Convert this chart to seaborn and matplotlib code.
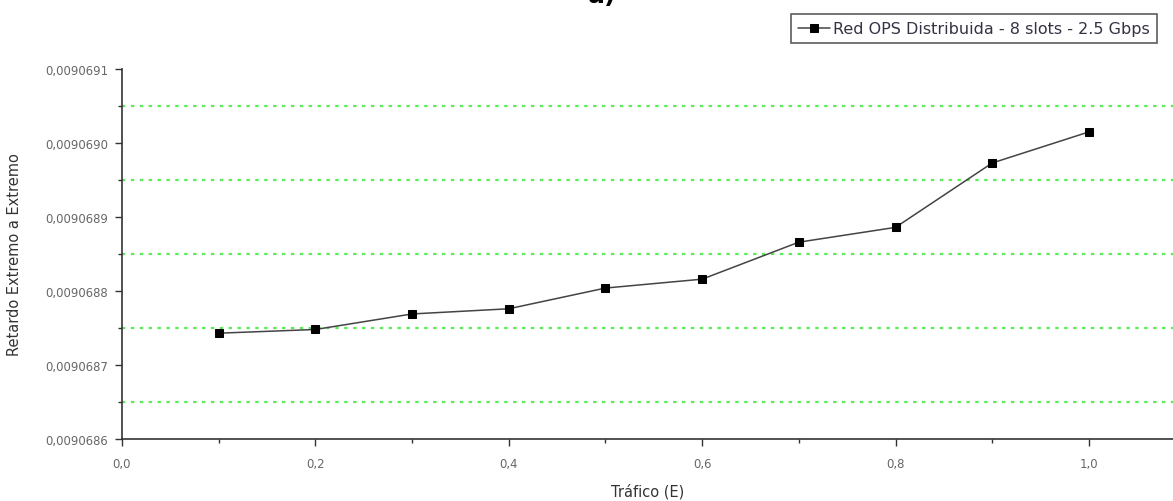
import matplotlib
matplotlib.use("Agg")
import matplotlib.pyplot as plt
import matplotlib.ticker as mticker
import seaborn as sns
import pandas as pd

trafico = [0.1, 0.2, 0.3, 0.4, 0.5, 0.6, 0.7, 0.8, 0.9, 1.0]
retardo = [0.009068743, 0.009068748, 0.009068769, 0.009068776, 0.009068804,
           0.009068816, 0.009068866, 0.009068886, 0.009068973, 0.009069015]
serie = "Red OPS Distribuida - 8 slots - 2.5 Gbps"
x_label = "Tráfico (E)"
y_label = "Retardo Extremo a Extremo"
titulo = "a)"
x_ticks = [0.0, 0.2, 0.4, 0.6, 0.8, 1.0]
x_minor = [0.1, 0.3, 0.5, 0.7, 0.9]
y_ticks = [0.0090686, 0.0090687, 0.0090688, 0.0090689, 0.0090690, 0.0090691]
y_minor = [0.00906865, 0.00906875, 0.00906885, 0.00906895, 0.00906905]

sns.set_theme(style="white")
plt.rcParams['font.family'] = ['DejaVu Sans']

df = pd.DataFrame({"x": trafico, "y": retardo, "s": [serie] * len(trafico)})

fig = plt.figure(figsize=(11.73, 5.02), dpi=100)
ax = fig.add_axes([0.104, 0.1235, 0.896, 0.737])

sns.lineplot(data=df, x="x", y="y", hue="s", palette=["#444444"], marker="s",
             markersize=6, markerfacecolor="black", markeredgecolor="black",
             linewidth=1.1, ax=ax)

ax.set_xlim(0.0, 1.087)
ax.set_ylim(y_ticks[0], y_ticks[-1])

ax.xaxis.set_major_locator(mticker.FixedLocator(x_ticks))
ax.xaxis.set_minor_locator(mticker.FixedLocator(x_minor))
ax.yaxis.set_major_locator(mticker.FixedLocator(y_ticks))
ax.yaxis.set_minor_locator(mticker.FixedLocator(y_minor))

ax.xaxis.set_major_formatter(mticker.FuncFormatter(lambda v, p: f"{v:.1f}".replace(".", ",")))
ax.yaxis.set_major_formatter(mticker.FuncFormatter(lambda v, p: f"{v:.7f}".replace(".", ",")))

ax.grid(False)
ax.grid(which="minor", axis="y", color="#55ee55", linestyle=(0, (1.5, 2.5)), linewidth=1.6)

for s in ["top", "right"]:
    ax.spines[s].set_visible(False)
for s in ["left", "bottom"]:
    ax.spines[s].set_color("#333333")
    ax.spines[s].set_linewidth(1.2)

ax.tick_params(axis="both", which="major", direction="out", length=5, width=1,
               color="#333333", labelsize=8.4, labelcolor="#666666",
               left=True, bottom=True)
ax.tick_params(axis="both", which="minor", direction="out", length=3, width=1,
               color="#333333", left=True, bottom=True)
ax.tick_params(axis="x", which="major", pad=8)
ax.tick_params(axis="y", which="major", pad=5)

ax.set_xlabel(x_label, fontsize=10.5, color="#333333")
ax.set_ylabel(y_label, fontsize=10.5, color="#333333")
ax.xaxis.set_label_coords(0.5, -0.1405)
ax.yaxis.set_label_coords(-0.102, 0.5)
ax.xaxis.label.set_va("center")
ax.yaxis.label.set_va("center")

leg = ax.legend(loc="upper right", bbox_to_anchor=(0.985, 1.149), frameon=True,
                fancybox=False, fontsize=11.5, handlelength=2.0, borderpad=0.45,
                handletextpad=0.2, borderaxespad=0)
leg.get_frame().set_edgecolor("#333333")
leg.get_frame().set_linewidth(1.2)
for t in leg.get_texts():
    t.set_color("#333344")

fig.text(0.513, 1 - 3 / 502, titulo, ha="center", va="baseline",
         fontsize=18, fontweight="bold", color="black")

fig.savefig("out.png", dpi=100)
